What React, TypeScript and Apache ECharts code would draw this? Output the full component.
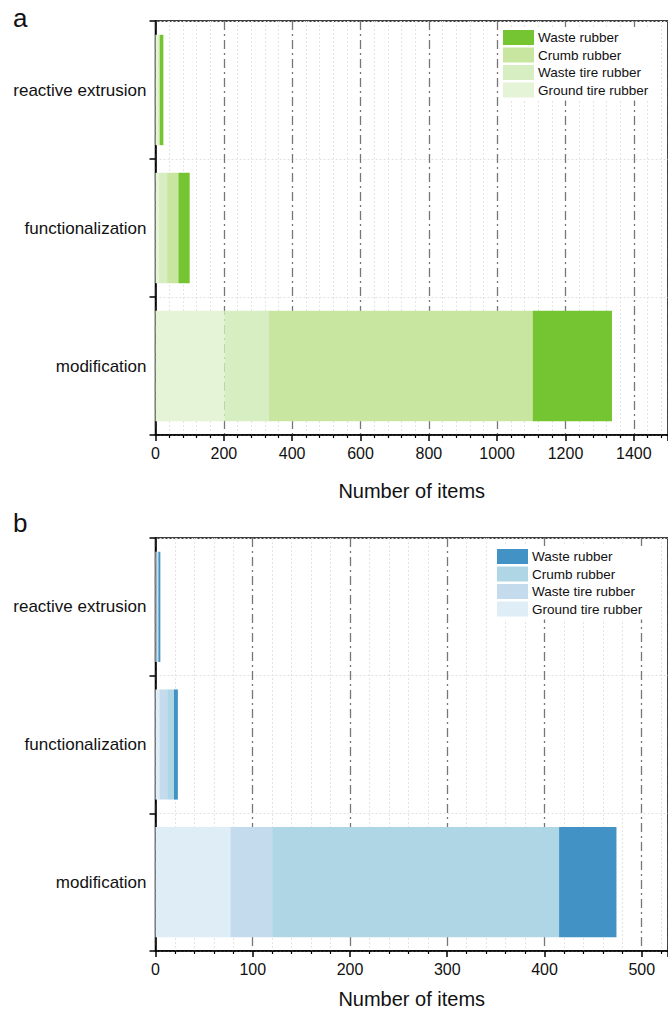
import React, { useEffect, useRef } from "react";
import * as echarts from "echarts";

const categories = ["reactive extrusion", "functionalization", "modification"];
const seriesNames = ["Ground tire rubber", "Waste tire rubber", "Crumb rubber", "Waste rubber"];
const legendOrder = ["Waste rubber", "Crumb rubber", "Waste tire rubber", "Ground tire rubber"];

// Panel a values (per category: reactive extrusion, functionalization, modification)
const aGroundTire = [6, 10, 202];
const aWasteTire = [3, 24, 130];
const aCrumb = [4, 33, 772];
const aWaste = [10, 33, 232];

// Panel b values
const bGroundTire = [1, 4, 77];
const bWasteTire = [1, 8, 43];
const bCrumb = [1, 7, 295];
const bWaste = [2, 4, 59];

const greenColors = ["#E5F3D6", "#D7EDC2", "#C8E69F", "#74C531"];
const blueColors = ["#DEEDF6", "#C4DBEE", "#AED6E5", "#4292C6"];

const FONT = "Liberation Sans, Arial, sans-serif";

export default function App() {
  const ref = useRef<HTMLDivElement>(null);
  useEffect(() => {
    document.body.style.margin = "0";
    const chart = echarts.init(ref.current!, undefined, { renderer: "svg" });
    const aData = [aGroundTire, aWasteTire, aCrumb, aWaste];
    const bData = [bGroundTire, bWasteTire, bCrumb, bWaste];

    const xAxisCommon = (max: number, interval: number, nameGap: number) => ({
      type: "value",
      min: 0,
      max,
      interval,
      name: "Number of items",
      nameLocation: "middle",
      nameGap,
      nameTextStyle: { fontSize: 20, color: "#111", fontFamily: FONT },
      axisLine: { show: true, onZero: false, lineStyle: { color: "#000", width: 1.5 } },
      axisTick: { show: true, inside: false, length: 6, lineStyle: { color: "#000", width: 1.5 } },
      minorTick: { show: true, splitNumber: 5, length: 3, lineStyle: { color: "#000", width: 1.2 } },
      axisLabel: {
        fontSize: 16,
        color: "#111",
        margin: 10,
        fontFamily: FONT,
        showMaxLabel: false,
        formatter: (v: number) => String(v),
      },
      splitLine: { show: true, lineStyle: { color: "#777", width: 1.3, type: [9, 4, 2, 4] } },
      minorSplitLine: { show: true, lineStyle: { color: "#e4e4e4", width: 1, type: [2, 2] } },
    });

    const yAxisCommon = {
      type: "category",
      data: categories,
      inverse: true,
      axisLine: { show: true, lineStyle: { color: "#000", width: 1.5 } },
      axisTick: { show: true, length: 6, lineStyle: { color: "#000", width: 1.5 } },
      axisLabel: { fontSize: 17, color: "#111", margin: 9, fontFamily: FONT },
      splitLine: { show: true, lineStyle: { color: "#e0e0e0", width: 1, type: [2, 2] } },
    };

    const makeSeries = (data: number[][], colors: string[], idx: number) =>
      seriesNames.map((n, i) => ({
        name: n,
        type: "bar",
        stack: "s" + idx,
        xAxisIndex: idx,
        yAxisIndex: idx,
        barWidth: "80%",
        data: data[i],
        itemStyle: { color: colors[i] },
      }));

    const makeLegend = (colors: string[], left: number, top: number) => ({
      orient: "vertical",
      left,
      top,
      itemWidth: 31,
      itemHeight: 15,
      itemGap: 2.5,
      padding: [3, 6, 3, 3],
      backgroundColor: "#fff",
      icon: "rect",
      selectedMode: false,
      textStyle: { fontSize: 13.5, color: "#111", fontFamily: FONT, padding: [0, 0, 0, -1] },
      data: legendOrder.map((n) => ({
        name: n,
        itemStyle: { color: colors[seriesNames.indexOf(n)] },
      })),
    });

    chart.setOption({
      animation: false,
      backgroundColor: "#fff",
      title: [
        { text: "a", left: 8, top: 0, textStyle: { fontSize: 26, fontWeight: "normal", color: "#111", fontFamily: FONT } },
        { text: "b", left: 8, top: 505, textStyle: { fontSize: 26, fontWeight: "normal", color: "#111", fontFamily: FONT } },
      ],
      grid: [
        { left: 155.5, top: 21, right: -3, height: 414, show: true, borderColor: "#000", borderWidth: 1.5, backgroundColor: "transparent" },
        { left: 155.5, top: 538, right: -3, height: 413, show: true, borderColor: "#000", borderWidth: 1.5, backgroundColor: "transparent" },
      ],
      xAxis: [
        { ...xAxisCommon(1500, 200, 46), gridIndex: 0 },
        { ...xAxisCommon(527, 100, 38), gridIndex: 1 },
      ],
      yAxis: [
        { ...yAxisCommon, gridIndex: 0 },
        { ...yAxisCommon, gridIndex: 1 },
      ],
      legend: [makeLegend(greenColors, 500, 27), makeLegend(blueColors, 494, 546)],
      series: [...makeSeries(aData, greenColors, 0), ...makeSeries(bData, blueColors, 1)],
    });
    return () => chart.dispose();
  }, []);
  return <div ref={ref} style={{ position: "absolute", left: 0, top: 0, width: 668, height: 1013 }} />;
}
